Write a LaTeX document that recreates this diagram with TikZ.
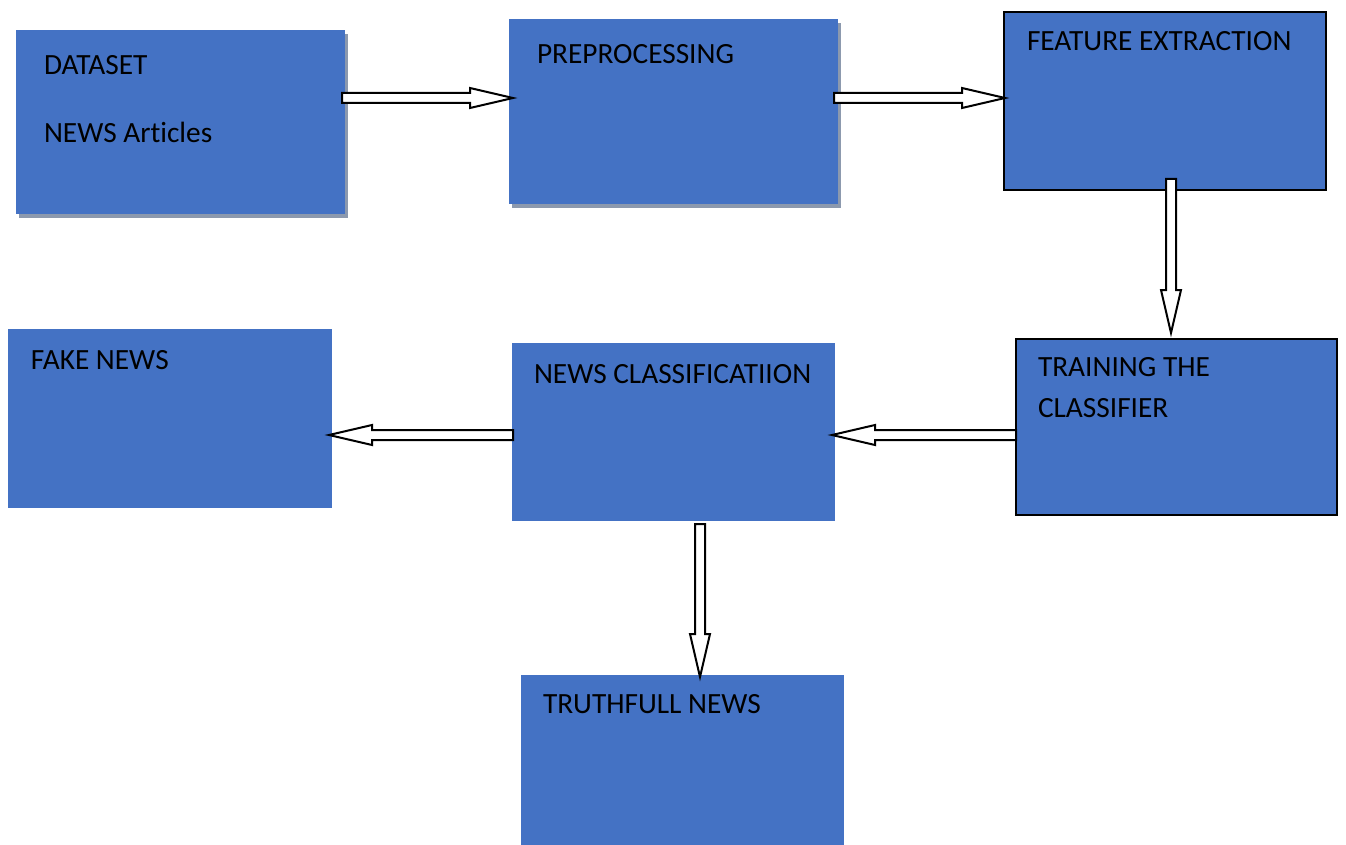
\documentclass[tikz,border=0pt]{standalone}
\usepackage{fontspec}
\setmainfont{Carlito}[Ligatures=NoCommon]
\usetikzlibrary{calc,shadows}
\definecolor{boxblue}{HTML}{4472C4}
\definecolor{shadowc}{HTML}{8C99AE}
\tikzset{
  box/.style={rectangle, fill=boxblue, draw=none, inner sep=0pt, outer sep=0pt},
  bordered/.style={draw=black, line width=1.5pt},
  shadowed/.style={drop shadow={shadow xshift=2.25pt, shadow yshift=-3pt, fill=shadowc, opacity=1}},
  lbl/.style={anchor=base west, inner sep=0pt, outer sep=0pt, text=black,
    font=\fontsize{22pt}{26pt}\selectfont},
  arr/.style={draw=black, fill=white, line width=1.5pt, line join=miter}
}
\newcommand\myblockarrow[2]{%
  \path ($(#2)!32.25pt!(#1)$) coordinate (bh);
  \draw[arr] ($(#1)!3.75pt!90:(#2)$) -- ($(bh)!3.75pt!90:(#2)$) -- ($(bh)!7.5pt!90:(#2)$) -- (#2)
    -- ($(bh)!7.5pt!-90:(#2)$) -- ($(bh)!3.75pt!-90:(#2)$) -- ($(#1)!3.75pt!-90:(#2)$) -- cycle;}
\begin{document}
\begin{tikzpicture}[x=0.75pt, y=-0.75pt]
\useasboundingbox (0,0) rectangle (1346,845);
% boxes
\node[box, shadowed, minimum width=246.75pt, minimum height=138pt] (ds) at (180.5,122) {};
\node[box, shadowed, minimum width=246.75pt, minimum height=138.75pt] (pp) at (673.5,111.5) {};
\node[box, bordered, minimum width=241.5pt, minimum height=133.5pt] (fe) at (1165,101) {};
\node[box, bordered, minimum width=240.75pt, minimum height=132pt] (tr) at (1176.5,427) {};
\node[box, minimum width=242.25pt, minimum height=133.5pt] (nc) at (673.5,432) {};
\node[box, minimum width=243pt, minimum height=134.25pt] (fk) at (170,418.5) {};
\node[box, minimum width=242.25pt, minimum height=127.5pt] (tt) at (682.5,760) {};
% labels
\node[lbl] (t1) at (44,75) {DATASET};
\node[lbl] (t2) at (44,143) {NEWS Articles};
\node[lbl] (t3) at (537,64) {PREPROCESSING};
\node[lbl] (t4) at (1027,51) {FEATURE EXTRACTION};
\node[lbl] (t5) at (31,369) {FAKE NEWS};
\node[lbl] (t6) at (534,383) {NEWS CLASSIFICATIION};
\node[lbl] (t7) at (1038,376) {TRAINING THE};
\node[lbl] (t8) at (1038,417) {CLASSIFIER};
\node[lbl] (t9) at (543,713) {TRUTHFULL NEWS};
% arrow end points
\coordinate (a1s) at ($(ds.east |- 0,98)+(-3,0)$);
\coordinate (a1e) at ($(pp.west |- 0,98)+(4,0)$);
\coordinate (a2s) at ($(pp.east |- 0,98)+(-4,0)$);
\coordinate (a2e) at ($(fe.west |- 0,98)+(1,0)$);
\coordinate (a3s) at ($(fe.south -| 1171,0)+(0,-11)$);
\coordinate (a3e) at ($(tr.north -| 1171,0)+(0,-6)$);
\coordinate (a5s) at ($(tr.west |- 0,435)$);
\coordinate (a5e) at ($(nc.east |- 0,435)+(-3,0)$);
\coordinate (a4s) at ($(nc.west |- 0,435)+(1,0)$);
\coordinate (a4e) at ($(fk.east |- 0,435)+(-3,0)$);
\coordinate (a6s) at ($(nc.south -| 700,0)+(0,3)$);
\coordinate (a6e) at ($(tt.north -| 700,0)+(0,2)$);
% arrows
\myblockarrow{a1s}{a1e}
\myblockarrow{a2s}{a2e}
\myblockarrow{a3s}{a3e}
\myblockarrow{a5s}{a5e}
\myblockarrow{a4s}{a4e}
\myblockarrow{a6s}{a6e}
\end{tikzpicture}
\end{document}
